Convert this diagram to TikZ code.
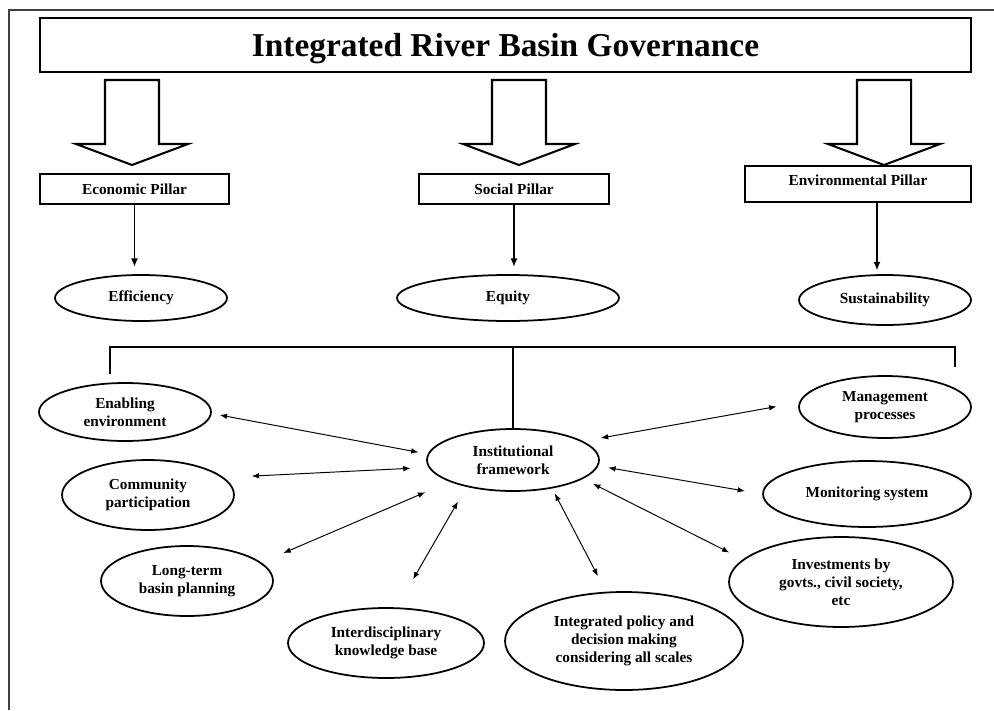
\documentclass[tikz,border=0pt]{standalone}
\usepackage{fontspec}
\setmainfont{Liberation Serif}
\usetikzlibrary{shapes, positioning, arrows.meta, calc}

\begin{document}
\begin{tikzpicture}[x=0.02cm, y=-0.02cm,
    every node/.style={font=\bfseries\fontsize{8.7pt}{10.2pt}\selectfont, align=center, inner sep=0pt},
    pillar/.style={draw, rectangle, line width=1.15pt, minimum height=0.6cm},
    oval/.style={draw, ellipse, line width=1pt},
    link/.style={{Latex[length=4.2pt,width=3.2pt]}-{Latex[length=4.2pt,width=3.2pt]}, line width=0.55pt},
    down/.style={-{Latex[length=5pt,width=4pt]}, line width=1.05pt}]

    \useasboundingbox (0,0) rectangle (994,710);
    \draw[line width=0.8pt, black!75] (994,10) -- (9,10) -- (9,710);

    % title
    \node[draw, line width=1.15pt, minimum width=18.62cm, minimum height=1.08cm, text depth=0pt,
          font=\bfseries\fontsize{19pt}{22pt}\selectfont] (title) at (505.5,45) {Integrated River Basin Governance};

    % big hollow arrows
    \draw[line width=1.15pt] (105,80) -- (159,80) -- (159,144) -- (188,144) -- (132,165) -- (76,144) -- (105,144) -- cycle;
    \draw[line width=1.15pt] (492,80) -- (546,80) -- (546,144) -- (575,144) -- (519,165) -- (463,144) -- (492,144) -- cycle;
    \draw[line width=1.15pt] (857,80) -- (911,80) -- (911,144) -- (940,144) -- (884,165) -- (828,144) -- (857,144) -- cycle;

    % pillars
    \node[pillar, minimum width=3.78cm] (econ) at (134.5,189) {Economic Pillar};
    \node[pillar, minimum width=3.8cm] (social) at (514,189) {Social Pillar};
    \node[pillar, minimum width=4.52cm, minimum height=0.72cm, text depth=4.5pt] (env) at (858,184) {Environmental Pillar};

    \node[oval, minimum width=3.44cm, minimum height=0.92cm] (eff) at (141,298) {Efficiency};
    \node[oval, minimum width=4.44cm, minimum height=0.92cm] (equity) at (508,298) {Equity};
    \node[oval, minimum width=3.44cm, minimum height=1.0cm] (sust) at (885,300) {Sustainability};

    \draw[down, shorten >=4pt] (econ.south) -- (econ.south |- eff.north);
    \draw[down, shorten >=4pt] (social.south) -- (social.south |- equity.north);
    \coordinate (envout) at ([xshift=0.38cm]env.south);
    \draw[down, shorten >=2pt] (envout) -- (envout |- sust.north);

    % institutional framework and its links
    \node[oval, minimum width=3.44cm, minimum height=1.24cm] (inst) at (513,460) {Institutional\\framework};

    \node[oval, minimum width=3.44cm, minimum height=1.16cm] (enab) at (125,412) {Enabling\\environment};
    \node[oval, minimum width=3.44cm, minimum height=1.4cm] (comm) at (148,495) {Community\\participation};
    \node[oval, minimum width=3.44cm, minimum height=1.4cm] (long) at (187,581) {Long-term\\basin planning};
    \node[oval, minimum width=3.92cm, minimum height=1.4cm] (inter) at (386,643) {Interdisciplinary\\knowledge base};
    \node[oval, minimum width=4.76cm, minimum height=1.96cm] (policy) at (624,641) {Integrated policy and\\decision making\\considering all scales};
    \node[oval, minimum width=4.48cm, minimum height=1.8cm] (invest) at (841,582) {Investments by\\govts., civil society,\\etc};
    \node[oval, minimum width=4.16cm, minimum height=1.32cm] (monit) at (867,494) {Monitoring system};
    \node[oval, minimum width=3.44cm, minimum height=1.24cm] (mgmt) at (885,407) {Management\\processes};

    \coordinate (brl) at (110,347);
    \coordinate (brr) at (955,347);
    \coordinate (tickl) at (110,374);
    \coordinate (tickr) at (955,367);
    \draw[line width=1pt] (tickl) -- (brl) -- (brr) -- (tickr);
    \draw[line width=1pt] (inst.north) -- (inst.north |- brl);

    \draw[link, shorten <=4.6pt, shorten >=5.3pt] (enab.-1) -- (inst.176.5);
    \draw[link, shorten <=15.9pt, shorten >=10.2pt] (comm.13.5) -- (inst.185.6);
    \draw[link, shorten <=13.6pt, shorten >=15.1pt] (long.14.4) -- (inst.199.4);
    \draw[link, shorten <=18.4pt, shorten >=9.6pt] (inter.73) -- (inst.210);
    \draw[link, shorten <=3.2pt, shorten >=10pt] (inst.-36.9) -- (policy.110);
    \draw[link, shorten <=6.3pt, shorten >=8.6pt] (inst.-15.6) -- (invest.167.2);
    \draw[link, shorten <=5.7pt, shorten >=9.9pt] (inst.-4.3) -- (monit.180.5);
    \draw[link, shorten <=10.2pt, shorten >=13pt] (inst.15.5) -- (mgmt.177.4);
\end{tikzpicture}
\end{document}
